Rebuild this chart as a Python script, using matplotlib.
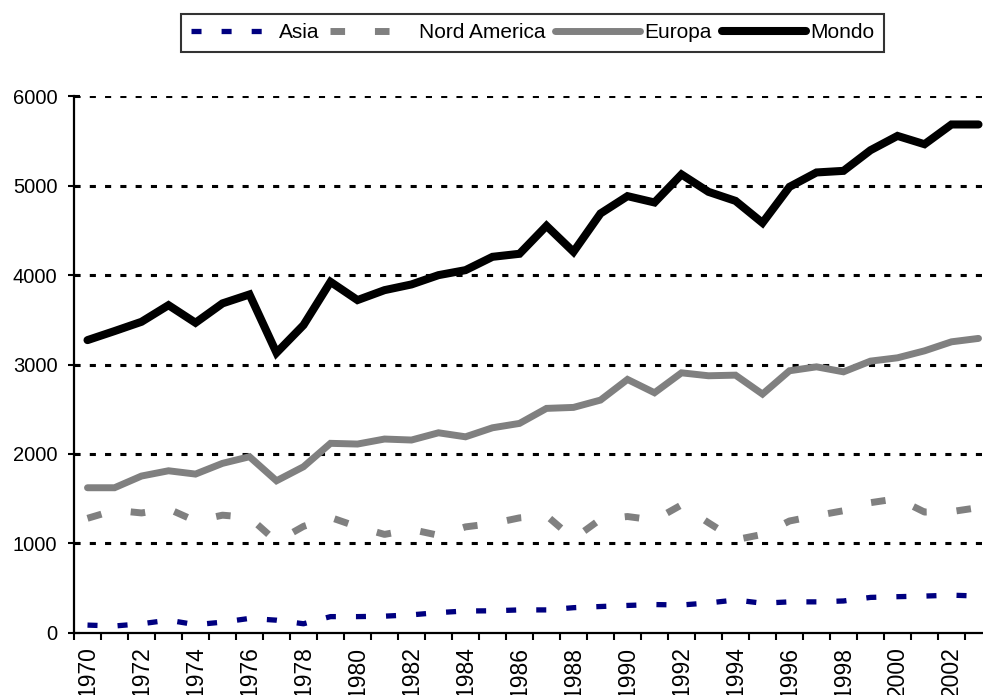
import matplotlib
matplotlib.use("Agg")
import matplotlib.pyplot as plt

plt.rcParams['font.family'] = ['Liberation Sans', 'DejaVu Sans']

years = list(range(1970, 2004))

asia = [85, 75, 100, 140, 90, 118, 160, 140, 100, 180, 180, 185, 200, 225, 243, 245,
        255, 255, 280, 293, 305, 315, 310, 333, 366, 330, 345, 345, 355, 395, 403, 410,
        420, 410]
nord_america = [1280, 1370, 1340, 1385, 1250, 1315, 1290, 1020, 1190, 1290, 1185, 1100,
                1155, 1090, 1184, 1222, 1285, 1310, 1050, 1270, 1300, 1260, 1430, 1230,
                1040, 1100, 1250, 1310, 1365, 1455, 1500, 1350, 1355, 1400]
europa = [1622, 1622, 1753, 1812, 1775, 1895, 1969, 1700, 1857, 2119, 2111, 2167, 2156,
          2237, 2192, 2293, 2342, 2510, 2521, 2603, 2834, 2685, 2908, 2875, 2882, 2670,
          2931, 2975, 2919, 3039, 3076, 3154, 3255, 3293]
mondo = [3274, 3375, 3479, 3665, 3468, 3685, 3785, 3132, 3442, 3926, 3722, 3833, 3897,
         4001, 4057, 4206, 4240, 4553, 4262, 4691, 4885, 4814, 5128, 4933, 4832, 4586,
         4989, 5150, 5168, 5399, 5559, 5466, 5687, 5687]

W, H = 983, 695
fig = plt.figure(figsize=(W / 100, H / 100), dpi=100)
ax = fig.add_axes([74 / W, (H - 632.7) / H, (992 - 74) / W, (632.7 - 96.5) / H])

x = list(range(len(years)))

ax.plot(x, asia, color='#000080', lw=3.8, linestyle=(0, (1.9, 3.8)),
        dash_capstyle='butt', label='Asia', zorder=3)
ax.plot(x, nord_america, color='#808080', lw=5.0, linestyle=(0, (2.1, 4.3)),
        dash_capstyle='butt', label='Nord America', zorder=3)
ax.plot(x, europa, color='#808080', lw=5.0, solid_capstyle='round',
        solid_joinstyle='miter', label='Europa', zorder=3)
ax.plot(x, mondo, color='black', lw=5.8, solid_capstyle='round',
        solid_joinstyle='miter', label='Mondo', zorder=4)

ax.set_xlim(-0.5, len(years) - 0.5)
ax.set_ylim(0, 6000)

# gridlines
for v in range(1000, 7000, 1000):
    ax.axhline(v, color='black', lw=2.2, linestyle=(0, (2.0, 3.0)),
               dash_capstyle='butt', zorder=1)

for s in ['top', 'right']:
    ax.spines[s].set_visible(False)
for s in ['left', 'bottom']:
    ax.spines[s].set_linewidth(1.6)

ax.set_yticks(range(0, 7000, 1000))
ax.tick_params(axis='y', direction='inout', length=8, width=1.5, pad=8, labelsize=14.5)

ax.set_xticks(x[::2])
ax.set_xticklabels([str(y) for y in years[::2]], rotation=90, fontsize=16.5)
ax.set_xticks([i - 0.5 for i in range(len(years) + 1)], minor=True)
ax.tick_params(axis='x', which='major', length=0, pad=10)
ax.tick_params(axis='x', which='minor', direction='out', length=5, width=1.5)

leg = fig.legend(loc='upper center', bbox_to_anchor=(532.5 / W, 1 - 14 / H), ncol=4,
                 fontsize=15, frameon=True, fancybox=False, edgecolor='black',
                 handlelength=4.05, handletextpad=0.2, columnspacing=0.5,
                 borderpad=0.45, borderaxespad=0)
leg.get_frame().set_linewidth(1.5)

fig.savefig("out.png", dpi=100)
